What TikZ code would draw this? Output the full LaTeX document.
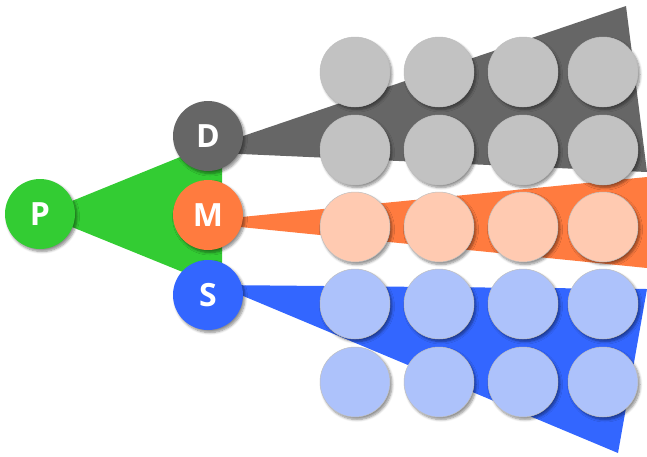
\documentclass[tikz,border=0pt]{standalone}
\usepackage{fontspec}
\setmainfont{Open Sans}
\usetikzlibrary{shadows.blur}
\definecolor{pgreen}{HTML}{33CC33}
\definecolor{dgray}{HTML}{666666}
\definecolor{morange}{HTML}{FF7B3F}
\definecolor{sblue}{HTML}{3366FF}
\definecolor{lgray}{HTML}{C2C2C2}
\definecolor{lorange}{HTML}{FFCAB1}
\definecolor{lblue}{HTML}{ADC2FB}
\tikzset{
  softshadow/.style={blur shadow={shadow xshift=2pt, shadow yshift=-2.5pt,
      shadow opacity=45, shadow blur steps=6, shadow blur radius=2.5pt}},
  bigc/.style={circle, minimum size=70pt, inner sep=0pt, softshadow,
      text=white, font=\fontsize{32}{34}\selectfont\bfseries},
  smallc/.style={circle, minimum size=70pt, inner sep=0pt, softshadow,
      draw=black!25, line width=0.5pt},
}
\begin{document}
\begin{tikzpicture}[x=1pt, y=-1pt]
\useasboundingbox (0,0) rectangle (647,456);
% centres of the four main nodes
\coordinate (cP) at (40,214);
\coordinate (cD) at (208,136);
\coordinate (cM) at (208,215);
\coordinate (cS) at (208,295);
% wedges fanning out from the nodes
\fill[pgreen] (cP) -- (222,140) -- (222,288) -- cycle;
\fill[dgray] ($(cD)+(-12,16)$) -- (626,6) -- (647,172) -- cycle;
\fill[morange] ($(cM)+(-17,7)$) -- (647,177) -- (647,268) -- cycle;
\fill[sblue] ($(cS)+(9,-10)$) -- (647,289) -- (618,453) -- cycle;
% main nodes
\node[bigc, fill=pgreen] (P) at (cP) {P};
\node[bigc, fill=dgray] (D) at (cD) {D};
\node[bigc, fill=morange] (M) at (cM) {M};
\node[bigc, fill=sblue] (S) at (cS) {S};
% rows of items
\foreach \x [count=\i] in {355,439,523,603} {
  \node[smallc, fill=lgray] (d1\i) at (\x,72) {};
  \node[smallc, fill=lgray] (d2\i) at (\x,150) {};
  \node[smallc, fill=lorange] (m1\i) at (\x,227) {};
  \node[smallc, fill=lblue] (s1\i) at (\x,304) {};
  \node[smallc, fill=lblue] (s2\i) at (\x,382) {};
}
\end{tikzpicture}
\end{document}
